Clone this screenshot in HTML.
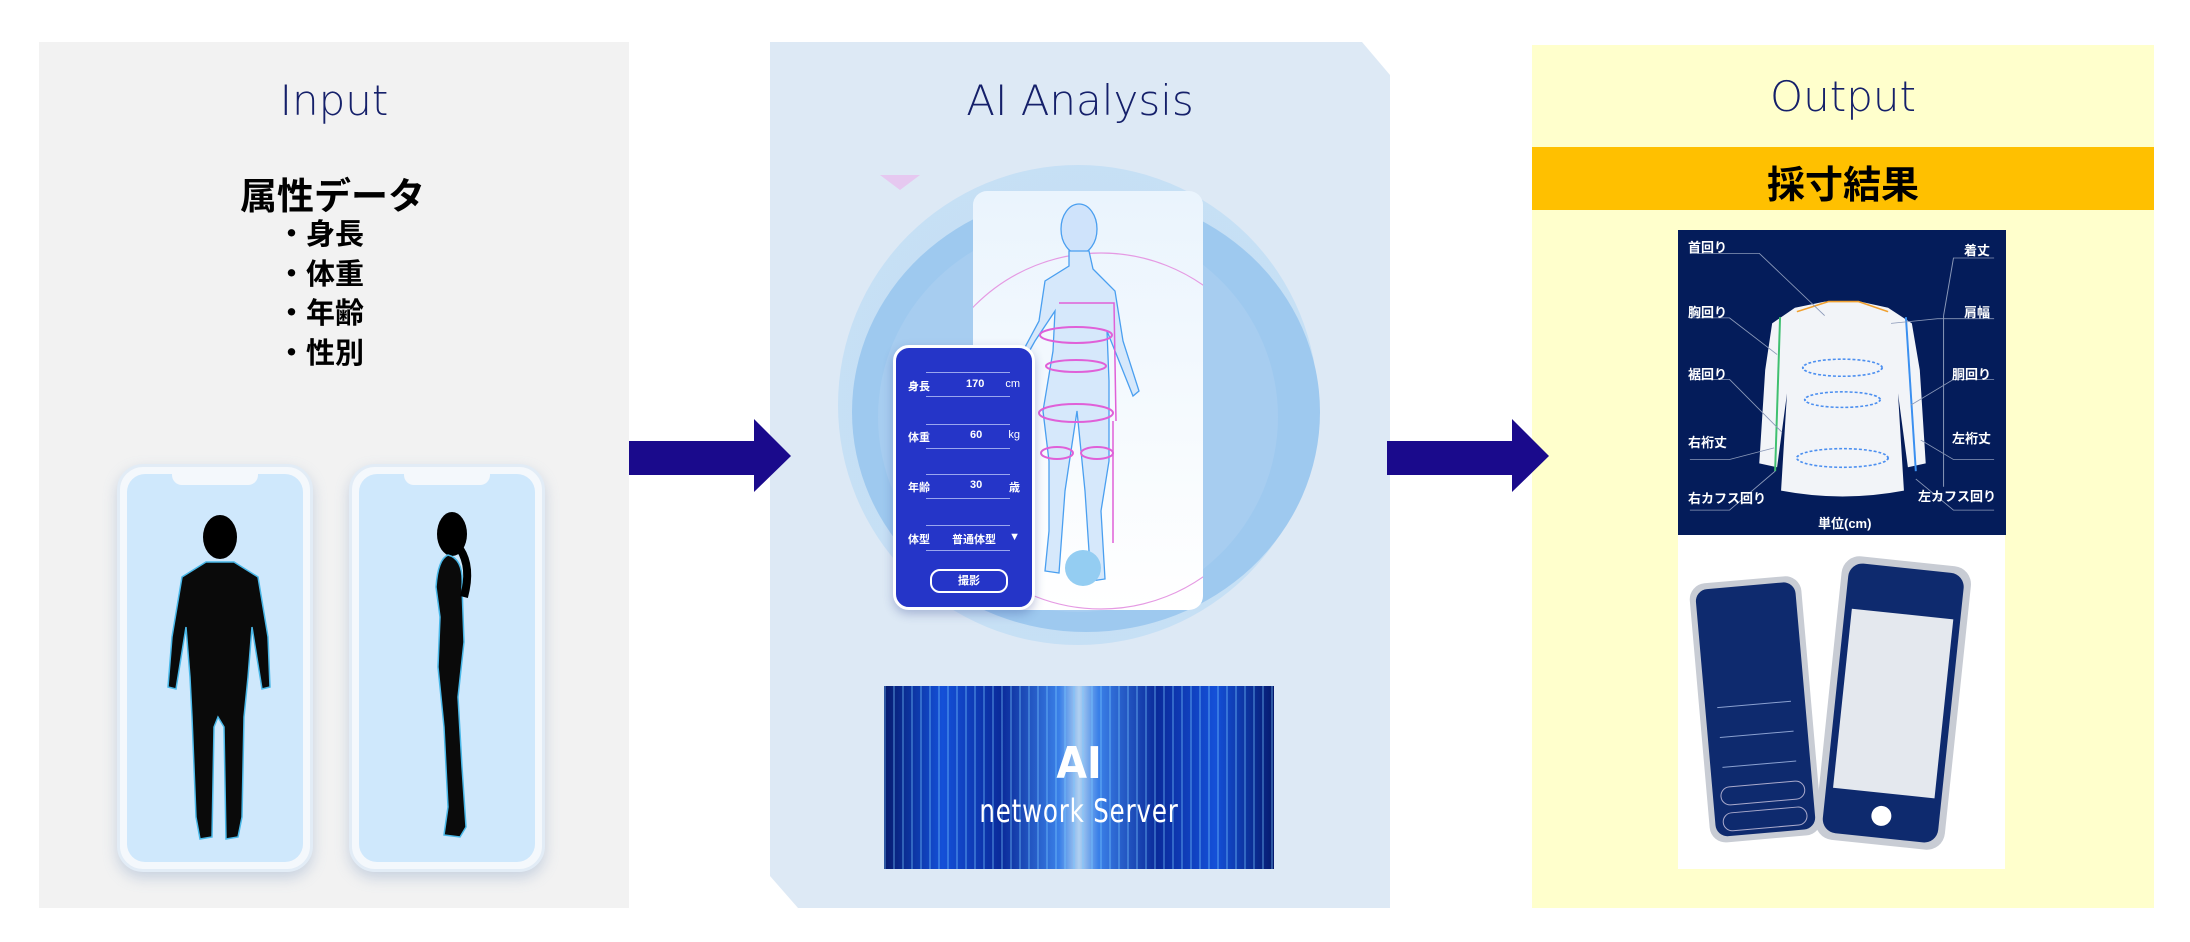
<!DOCTYPE html>
<html><head><meta charset="utf-8">
<style>
body{margin:0;width:2190px;height:942px;background:#fff;position:relative;overflow:hidden;font-family:"Liberation Sans","Noto Sans CJK JP",sans-serif}
.abs{position:absolute}
.title{position:absolute;font-size:42px;color:#15206a;text-align:center;font-family:"DejaVu Sans","Liberation Sans",sans-serif;font-weight:200}
.jp{font-family:"Liberation Sans","Noto Sans CJK JP",sans-serif;font-weight:bold;color:#000}
.phone{position:absolute;border-radius:26px;background:#f4f8fc;box-shadow:0 6px 14px rgba(120,150,190,.35);border:3px solid #e2ecf6}
.screen{position:absolute;left:7px;top:7px;right:7px;bottom:7px;background:#cfe8fc;border-radius:18px}
.notch{position:absolute;left:50%;top:0;width:86px;height:18px;margin-left:-43px;background:#f4f8fc;border-radius:0 0 10px 10px}
.row{position:absolute;left:12px;right:12px;color:#fff;font-size:11px;font-weight:bold}
.line{position:absolute;left:30px;right:22px;height:1px;background:#9aa6ee}
.lbl{position:absolute;color:#fff;font-size:13px;font-weight:bold;font-family:"Liberation Sans","Noto Sans CJK JP",sans-serif}
</style></head><body>

<!-- Input panel -->
<div class="abs" style="left:39px;top:42px;width:590px;height:866px;background:#f2f2f2"></div>
<div class="title" style="left:39px;width:590px;top:76px">Input</div>
<div class="abs jp" style="left:240px;top:166px;font-size:37px">属性データ</div>
<div class="abs jp" style="left:277px;top:216px;font-size:29px;line-height:39.5px">・身長<br>・体重<br>・年齢<br>・性別</div>

<div class="phone" style="left:117px;top:464px;width:190px;height:402px"><div class="screen"></div><div class="notch"></div>
<svg class="abs" style="left:0;top:0" width="196" height="408" viewBox="0 0 196 408">
<ellipse cx="100" cy="70" rx="17" ry="22" fill="#000"/>
<path d="M86 95 L114 95 L138 110 L148 170 L150 220 L142 222 L132 160 L128 210 L124 250 L122 350 L118 370 L106 372 L104 260 L98 250 L94 260 L92 370 L80 372 L76 350 L72 250 L70 210 L66 160 L56 222 L48 220 L52 170 L62 110 Z" fill="#0a0a0a" stroke="#4ab8e8" stroke-width="1.5"/>
</svg></div>
<div class="phone" style="left:349px;top:464px;width:190px;height:402px"><div class="screen"></div><div class="notch"></div>
<svg class="abs" style="left:0;top:0" width="196" height="408" viewBox="0 0 196 408">
<ellipse cx="100" cy="67" rx="15" ry="22" fill="#000"/>
<path d="M96 88 Q112 92 110 120 L112 175 L106 230 L110 300 L114 360 L108 370 L92 368 L96 340 L92 260 L86 200 L88 150 L84 120 Q86 92 96 88 Z" fill="#0a0a0a" stroke="#4ab8e8" stroke-width="1.5"/>
<path d="M108 82 Q120 100 112 130" stroke="#000" stroke-width="8" fill="none"/>
</svg></div>

<!-- AI panel -->
<svg class="abs" style="left:770px;top:42px" width="620" height="866"><polygon points="0,0 592,0 620,33 620,866 28,866 0,834" fill="#dde9f5"/></svg>
<div class="title" style="left:770px;width:620px;top:76px">AI Analysis</div>
<div class="abs" style="left:838px;top:165px;width:480px;height:480px;border-radius:50%;background:radial-gradient(circle,#c0dcf4 0%,#c9e1f5 100%)"></div>
<div class="abs" style="left:852px;top:192px;width:468px;height:440px;border-radius:50%;background:#9ec9ef"></div>
<div class="abs" style="left:878px;top:222px;width:400px;height:390px;border-radius:50%;background:#a7cdf0"></div>
<svg class="abs" style="left:880px;top:170px" width="40" height="20"><polygon points="0,5 40,5 20,20" fill="#e6c8f0"/></svg>
<div class="abs" style="left:973px;top:191px;width:230px;height:419px;background:linear-gradient(180deg,#eaf4fd,#ffffff);border-radius:14px"></div>
<svg class="abs" style="left:973px;top:191px" width="230" height="419" viewBox="0 0 230 419">
<circle cx="128" cy="240" r="178" fill="none" stroke="#e59ae3" stroke-width="1.2"/>
<g fill="none" stroke="#4a9ff0" stroke-width="1.3">
<ellipse cx="106" cy="38" rx="18" ry="25" fill="#cfe3fb"/>
<path d="M96 60 L96 75 L72 90 L66 130 L50 160 L48 175 L62 150 L82 120 L80 160 L70 220 L76 270 L76 340 L72 380 L86 382 L92 300 L104 220 L112 300 L118 390 L132 388 L128 320 L136 270 L136 190 L134 140 L146 170 L160 205 L166 200 L150 150 L142 100 L120 78 L116 60 Z" fill="#d6e8fb"/>
</g>
<g fill="none" stroke="#e060d8" stroke-width="2">
<ellipse cx="103" cy="144" rx="36" ry="8"/><ellipse cx="103" cy="175" rx="30" ry="6"/><ellipse cx="103" cy="222" rx="37" ry="9"/><ellipse cx="84" cy="262" rx="16" ry="6"/><ellipse cx="124" cy="262" rx="16" ry="6"/>
<path d="M86 112 L141 112 L143 230 M140 230 L140 352" stroke-width="1.5"/>
</g>
<circle cx="110" cy="377" r="18" fill="#94cdf2"/>
</svg>
<div class="abs" style="left:893px;top:345px;width:142px;height:265px;background:#2535c8;border:3px solid #fff;border-radius:16px;box-sizing:border-box;box-shadow:0 4px 10px rgba(40,60,140,.3)">
<div class="line" style="top:24px"></div><div class="row" style="top:30px"><span style="position:absolute;left:0">身長</span><span style="position:absolute;left:58px">170</span><span style="position:absolute;right:0;font-weight:normal">cm</span></div><div class="line" style="top:48px"></div>
<div class="line" style="top:76px"></div><div class="row" style="top:81px"><span style="position:absolute;left:0">体重</span><span style="position:absolute;left:62px">60</span><span style="position:absolute;right:0;font-weight:normal">kg</span></div><div class="line" style="top:100px"></div>
<div class="line" style="top:126px"></div><div class="row" style="top:131px"><span style="position:absolute;left:0">年齢</span><span style="position:absolute;left:62px">30</span><span style="position:absolute;right:0">歳</span></div><div class="line" style="top:150px"></div>
<div class="line" style="top:177px"></div><div class="row" style="top:183px"><span style="position:absolute;left:0">体型</span><span style="position:absolute;left:44px">普通体型</span><span style="position:absolute;right:0">▼</span></div><div class="line" style="top:202px"></div>
<div class="abs" style="left:34px;top:221px;width:74px;height:20px;border:2px solid #fff;border-radius:10px;color:#fff;font-size:11px;text-align:center;line-height:20px;font-weight:bold">撮影</div>
</div>
<!-- server -->
<div class="abs" style="left:884px;top:686px;width:390px;height:183px;background:linear-gradient(90deg,#061a6e 0%,#1450d8 15%,#0a2a9a 30%,#3a80e8 45%,#b0d0f0 50%,#3a80e8 55%,#0a2a9a 70%,#1450d8 85%,#061a6e 100%);overflow:hidden">
<div class="abs" style="left:0;top:0;right:0;bottom:0;background:repeating-linear-gradient(90deg,rgba(120,200,255,.35) 0 2px,transparent 2px 9px)"></div>
<div class="abs" style="left:0;width:390px;top:52px;text-align:center;color:#fff;font-size:44px;font-family:'DejaVu Sans Condensed','Liberation Sans Narrow',sans-serif;font-weight:bold">AI</div>
<div class="abs" style="left:0;width:390px;top:106px;text-align:center;color:#fff;font-size:32px;font-family:'DejaVu Sans Condensed','Liberation Sans Narrow',sans-serif;letter-spacing:1px;transform:scaleX(.85)">network Server</div>
</div>

<!-- Output panel -->
<div class="abs" style="left:1532px;top:45px;width:622px;height:863px;background:#ffffcc"></div>
<div class="title" style="left:1532px;width:622px;top:72px">Output</div>
<div class="abs" style="left:1532px;top:147px;width:622px;height:63px;background:#ffc000"></div>
<div class="abs jp" style="left:1532px;width:622px;top:154px;text-align:center;font-size:38px">採寸結果</div>
<div class="abs" style="left:1678px;top:230px;width:328px;height:305px;background:#041c5a"></div>
<svg class="abs" style="left:1678px;top:230px" width="328" height="305" viewBox="0 0 331 392" preserveAspectRatio="none">
<path d="M118 100 L95 120 L88 180 L82 300 L100 305 L110 210 L104 335 Q166 350 228 335 L222 210 L232 305 L250 300 L244 180 L236 120 L212 100 L184 92 L148 92 Z" fill="#f2f4f8"/>
<g fill="none" stroke="#4c8ff0" stroke-width="2" stroke-dasharray="3 2"><ellipse cx="166" cy="177" rx="40" ry="11"/><ellipse cx="166" cy="218" rx="38" ry="10"/><ellipse cx="166" cy="293" rx="46" ry="12"/></g>
<path d="M103 112 L98 310" stroke="#3fc070" stroke-width="2" fill="none"/>
<path d="M230 112 L240 310" stroke="#3a8ff0" stroke-width="2" fill="none"/>
<path d="M120 105 L152 92 L182 92 L212 105" stroke="#f0a030" stroke-width="2" fill="none"/>
<g stroke="#8a98b8" stroke-width="1" fill="none">
<path d="M12 30 L82 30 L148 110"/><path d="M12 113 L52 113 L100 160"/><path d="M12 192 L52 192 L105 260"/><path d="M12 295 L52 295 L97 280"/><path d="M12 360 L52 360 L98 310"/>
<path d="M319 36 L278 36 L268 110 M268 110 L268 330"/><path d="M319 114 L262 114 L215 120"/><path d="M319 192 L278 192 L235 225"/><path d="M319 295 L278 295 L245 270"/><path d="M319 360 L278 360 L240 320"/>
</g>
</svg>
<div class="lbl" style="left:1688px;top:237px">首回り</div>
<div class="lbl" style="left:1688px;top:302px">胸回り</div>
<div class="lbl" style="left:1688px;top:364px">裾回り</div>
<div class="lbl" style="left:1688px;top:432px">右裄丈</div>
<div class="lbl" style="left:1688px;top:488px">右カフス回り</div>
<div class="lbl" style="left:1964px;top:240px">着丈</div>
<div class="lbl" style="left:1964px;top:302px">肩幅</div>
<div class="lbl" style="left:1952px;top:364px">胴回り</div>
<div class="lbl" style="left:1952px;top:428px">左裄丈</div>
<div class="lbl" style="left:1918px;top:486px">左カフス回り</div>
<div class="lbl" style="left:1818px;top:513px">単位(cm)</div>

<div class="abs" style="left:1678px;top:535px;width:327px;height:334px;background:#fff;overflow:hidden">
<svg class="abs" style="left:0;top:0" width="327" height="334" viewBox="0 0 327 334">
<g transform="rotate(-5 70 180)"><rect x="22" y="45" width="112" height="260" rx="16" fill="#c8ccd4"/><rect x="28" y="51" width="100" height="248" rx="12" fill="#0e2a6e"/>
<g stroke="#8aa0d0" stroke-width="1"><line x1="40" y1="170" x2="114" y2="170"/><line x1="40" y1="200" x2="114" y2="200"/><line x1="40" y1="230" x2="114" y2="230"/></g>
<rect x="36" y="250" width="84" height="18" rx="9" fill="none" stroke="#aac"/><rect x="36" y="276" width="84" height="18" rx="9" fill="none" stroke="#aac"/></g>
<g transform="rotate(6 210 170)"><rect x="150" y="25" width="130" height="285" rx="18" fill="#c8ccd4"/><rect x="157" y="32" width="116" height="271" rx="14" fill="#0e2a6e"/><rect x="164" y="78" width="102" height="180" fill="#e4e8ee"/><circle cx="215" cy="281" r="10" fill="#fff"/></g>
</svg></div>

<!-- arrows (on top) -->
<svg class="abs" style="left:620px;top:410px" width="180" height="90"><polygon points="9,31 134,31 134,9 171,46 134,82 134,65 9,65" fill="#1a0a8c"/></svg>
<svg class="abs" style="left:1378px;top:410px" width="180" height="90"><polygon points="9,31 134,31 134,9 171,46 134,82 134,65 9,65" fill="#1a0a8c"/></svg>
</body></html>
